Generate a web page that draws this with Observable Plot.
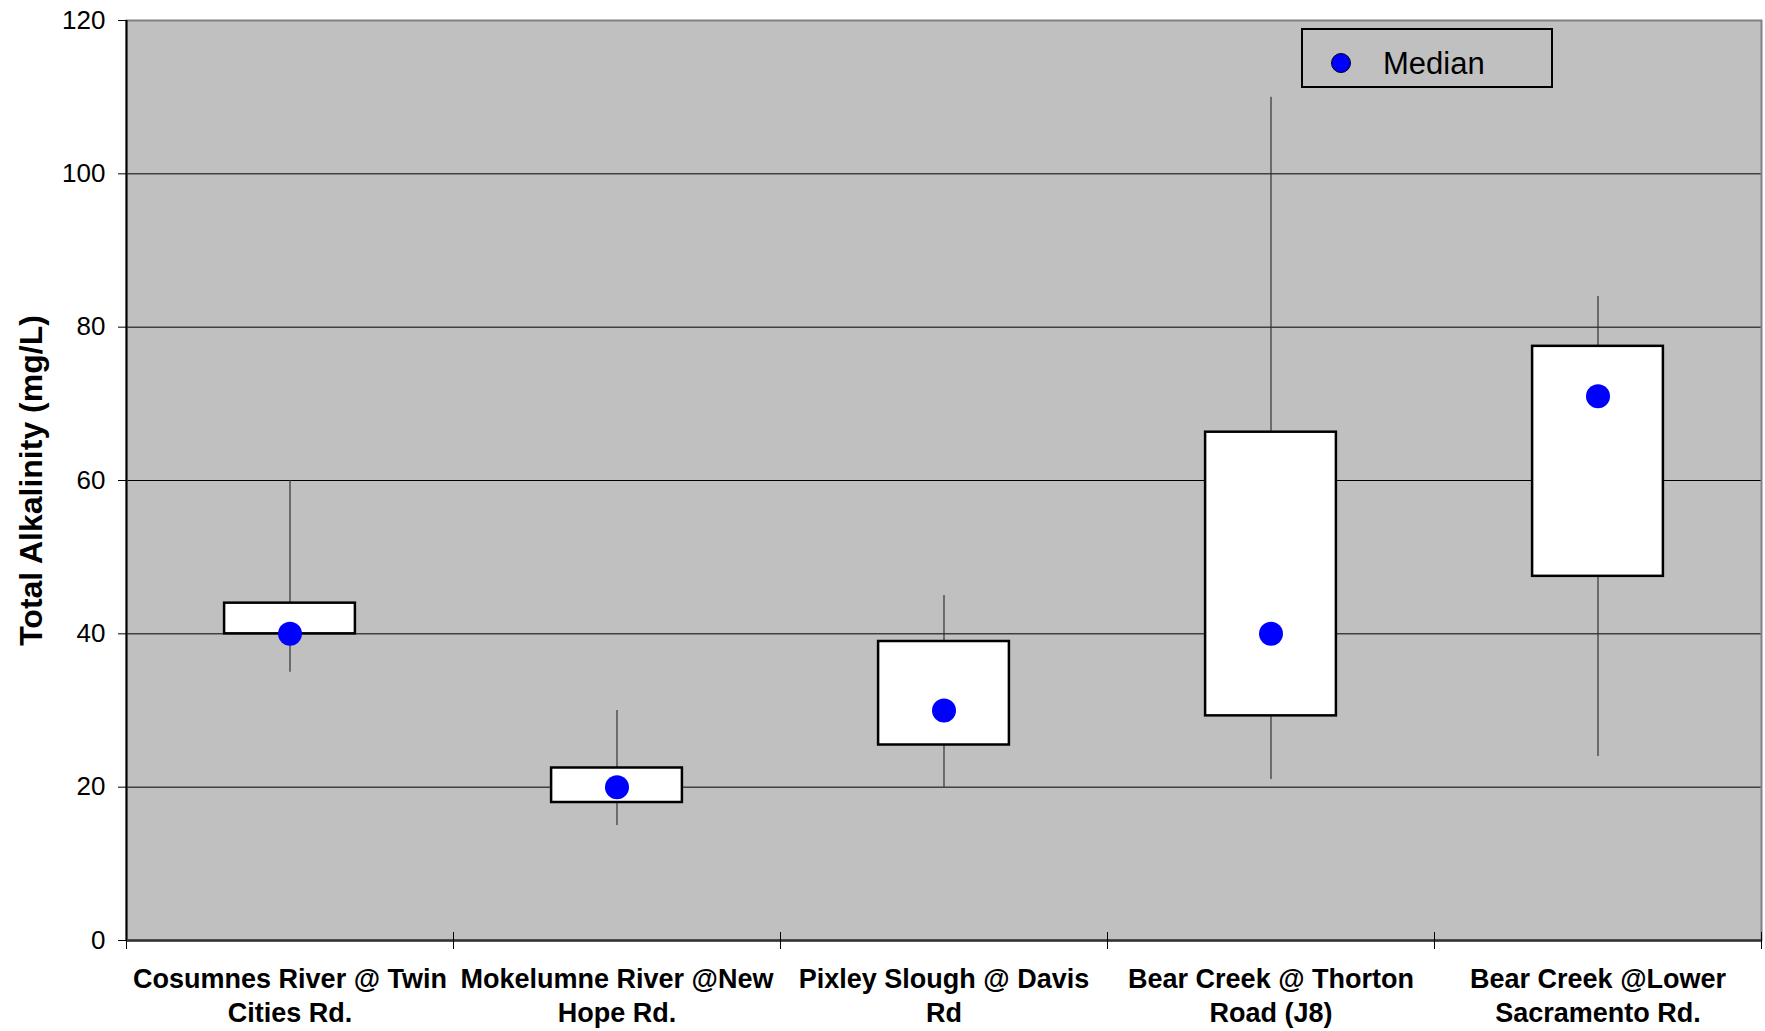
<!DOCTYPE html>
<html><head><meta charset="utf-8">
<script src="https://cdn.jsdelivr.net/npm/d3@7"></script>
<script src="https://cdn.jsdelivr.net/npm/@observablehq/plot@0.6"></script>
<style>
body{margin:0;background:#fff;font-family:"Liberation Sans",Arial,sans-serif;}
#wrap{position:relative;width:1765px;height:1031px;}
#legend{position:absolute;left:1301px;top:28px;}
</style></head><body>
<div id="wrap"></div>
<script>
const categories = [
  "Cosumnes River @ Twin\nCities Rd.",
  "Mokelumne River @New\nHope Rd.",
  "Pixley Slough @ Davis\nRd",
  "Bear Creek @ Thorton\nRoad (J8)",
  "Bear Creek @Lower\nSacramento Rd."
];
const minValues    = [35, 15, 20, 21, 24];
const q1Values     = [40, 18, 25.5, 29.3, 47.5];
const medianValues = [40, 20, 30, 40, 71];
const q3Values     = [44, 22.5, 39, 66.3, 77.5];
const maxValues    = [60, 30, 45, 110, 84];
const yTicks = [0, 20, 40, 60, 80, 100, 120];
const gridValues = [20, 40, 60, 80, 100];
const yTitle = "Total Alkalinity (mg/L)";
const legendLabel = "Median";

const data = categories.map((c, i) => ({
  pos: i + 0.5, name: c,
  lo: minValues[i], q1: q1Values[i], med: medianValues[i], q3: q3Values[i], hi: maxValues[i]
}));
const boundaries = d3.range(categories.length + 1);

const W = 1765, H = 1031, ML = 126, MR = 4, MT = 20, MB = 91;
const plotW = W - ML - MR, plotH = H - MT - MB;

const chart = Plot.plot({
  width: W, height: H,
  marginLeft: ML, marginRight: MR, marginTop: MT, marginBottom: MB,
  style: {fontFamily: '"Liberation Sans", Arial, sans-serif', background: "#fff", overflow: "visible", color: "#000"},
  x: {domain: [0, categories.length], axis: null},
  y: {domain: [0, 120], axis: null},
  marks: [
    Plot.frame({fill: "#c0c0c0", stroke: null}),
    Plot.ruleY(gridValues, {stroke: "#000", strokeWidth: 1}),
    Plot.frame({stroke: "#808080", strokeWidth: 2}),
    Plot.ruleX([0], {stroke: "#000", strokeWidth: 2}),
    Plot.ruleY([0], {stroke: "#333", strokeWidth: 2.5}),
    Plot.tickY(yTicks, {y: d => d, insetLeft: -8, insetRight: plotW, stroke: "#000", strokeWidth: 1}),
    Plot.tickX(boundaries, {x: d => d, insetTop: plotH - 8, insetBottom: -9, stroke: "#000", strokeWidth: 1}),
    Plot.ruleX(data, {x: "pos", y1: "lo", y2: "hi", stroke: "#333", strokeWidth: 1.2}),
    Plot.rect(data, {x1: d => d.pos - 0.2, x2: d => d.pos + 0.2, y1: "q1", y2: "q3", fill: "#fff", stroke: "#000", strokeWidth: 2.5}),
    Plot.dot(data, {x: "pos", y: "med", r: 12, fill: "#0000ff", stroke: null}),
    Plot.axisY(yTicks, {tickSize: 0, tickPadding: 21, fontSize: 26, label: null}),
    Plot.axisX(data.map(d => d.pos), {
      tickSize: 0, tickPadding: 23, fontSize: 27, fontWeight: "bold", lineHeight: 1.27,
      tickFormat: (d) => categories[Math.round(d - 0.5)], label: null
    }),
    Plot.text([yTitle], {frameAnchor: "left", rotate: -90, dx: -95, fontSize: 32, fontWeight: "bold",
      textAnchor: "middle", lineAnchor: "middle", fill: "#000"})
  ]
});
const wrap = document.getElementById("wrap");
wrap.appendChild(chart);

// Legend (inside plot area, top right)
const lg = d3.create("svg").attr("id", "legend").attr("width", 252).attr("height", 60);
lg.append("rect").attr("x", 1).attr("y", 1).attr("width", 250).attr("height", 58)
  .attr("fill", "#c0c0c0").attr("stroke", "#000").attr("stroke-width", 2);
lg.append("circle").attr("cx", 40).attr("cy", 35).attr("r", 9.5)
  .attr("fill", "#0000ff").attr("stroke", "#000").attr("stroke-width", 1);
lg.append("text").attr("x", 82).attr("y", 46).attr("font-size", 31)
  .attr("font-family", '"Liberation Sans", Arial, sans-serif').attr("fill", "#000").text(legendLabel);
wrap.appendChild(lg.node());
</script>
</body></html>
